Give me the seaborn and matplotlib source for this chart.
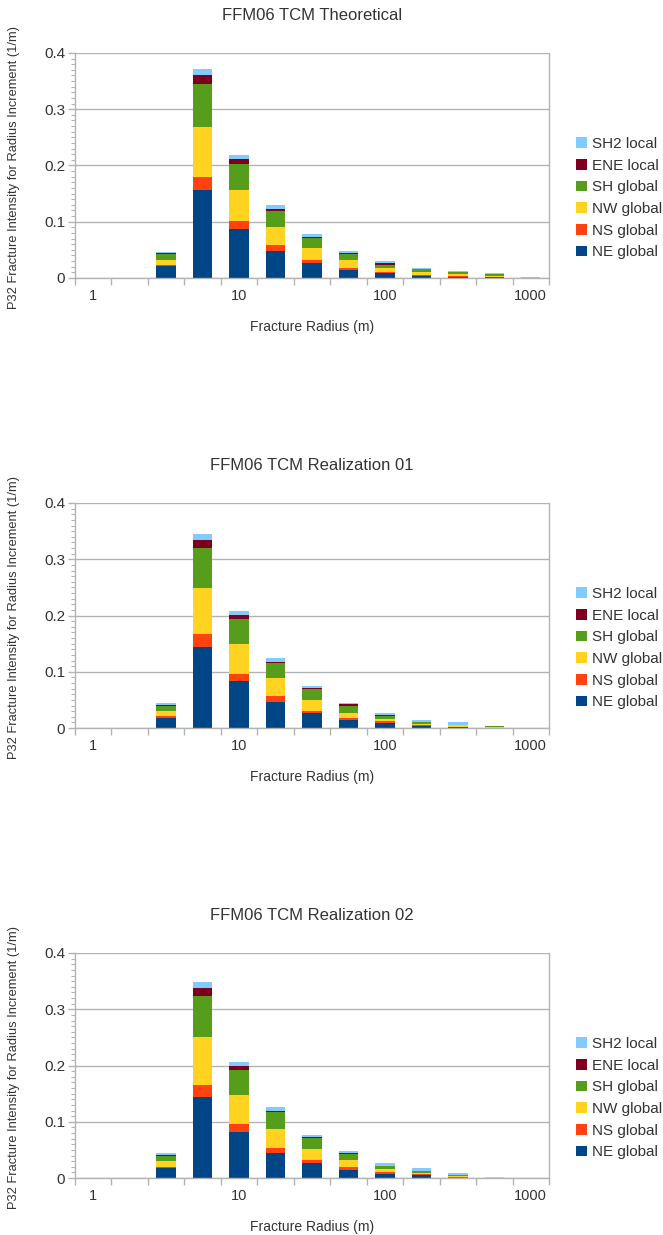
import numpy as np
import pandas as pd
import matplotlib
matplotlib.use("Agg")
import matplotlib.pyplot as plt
from matplotlib.ticker import MultipleLocator, FixedLocator, NullFormatter
import seaborn as sns

sns.set_theme(style="white")
plt.rcParams['font.family'] = ['Liberation Sans', 'DejaVu Sans']

# Categories: fracture radius bins (4 per decade, 1..1000 m)
radius_bins = ["1", "1.78", "3.16", "5.62", "10", "17.8", "31.6", "56.2",
               "100", "178", "316", "562", "1000"]
tick_labels = {0: "1", 4: "10", 8: "100", 12: "1000"}

sets = ["SH2 local", "ENE local", "SH global", "NW global", "NS global", "NE global"]
colors = {"SH2 local": "#83caff", "ENE local": "#7e0021", "SH global": "#579d1c",
          "NW global": "#ffd320", "NS global": "#ff420e", "NE global": "#004586"}

titles = ["FFM06 TCM Theoretical", "FFM06 TCM Realization 01", "FFM06 TCM Realization 02"]

# --- Theoretical ---
th_NE  = [0, 0, 0.021, 0.156, 0.087, 0.0485, 0.026, 0.015, 0.008, 0.004, 0.002, 0.0015, 0]
th_NS  = [0, 0, 0.002, 0.024, 0.014, 0.010, 0.006, 0.003, 0.0025, 0.002, 0.0015, 0.0005, 0]
th_NW  = [0, 0, 0.0095, 0.088, 0.055, 0.0325, 0.0207, 0.0147, 0.007, 0.004, 0.003, 0.002, 0]
th_SH  = [0, 0, 0.010, 0.077, 0.046, 0.0285, 0.018, 0.010, 0.006, 0.0055, 0.004, 0.003, 0]
th_ENE = [0, 0, 0.0024, 0.0165, 0.009, 0.004, 0.0025, 0.0012, 0.0025, 0.001, 0.0005, 0.0005, 0]
th_SH2 = [0, 0, 0.0017, 0.0095, 0.008, 0.006, 0.0056, 0.004, 0.0035, 0.002, 0.0015, 0.0015, 0.0018]

# --- Realization 01 ---
r1_NE  = [0, 0, 0.018, 0.144, 0.083, 0.047, 0.026, 0.0136, 0.0095, 0.0036, 0.0018, 0.0002, 0]
r1_NS  = [0, 0, 0.0025, 0.0226, 0.0136, 0.0095, 0.0036, 0.0036, 0.0023, 0.0017, 0.0006, 0.0002, 0]
r1_NW  = [0, 0, 0.009, 0.083, 0.0534, 0.0326, 0.0208, 0.010, 0.0048, 0.0024, 0.0023, 0.0015, 0]
r1_SH  = [0, 0, 0.0095, 0.071, 0.0444, 0.026, 0.0184, 0.0124, 0.0041, 0.0023, 0.0006, 0.001, 0]
r1_ENE = [0, 0, 0.0013, 0.0143, 0.006, 0.0024, 0.0017, 0.0023, 0.0023, 0.0006, 0.0002, 0, 0]
r1_SH2 = [0, 0, 0.004, 0.010, 0.0083, 0.0065, 0.0048, 0.003, 0.003, 0.003, 0.0045, 0.0002, 0]

# --- Realization 02 ---
r2_NE  = [0, 0, 0.018, 0.1436, 0.081, 0.044, 0.026, 0.014, 0.0077, 0.0047, 0.0005, 0, 0]
r2_NS  = [0, 0, 0.0024, 0.0226, 0.0157, 0.010, 0.0065, 0.006, 0.003, 0.0018, 0.0005, 0, 0]
r2_NW  = [0, 0, 0.0095, 0.0837, 0.051, 0.0326, 0.0196, 0.012, 0.0047, 0.0024, 0.002, 0.002, 0]
r2_SH  = [0, 0, 0.009, 0.0735, 0.045, 0.031, 0.019, 0.0107, 0.0053, 0.0035, 0.003, 0, 0]
r2_ENE = [0, 0, 0.0024, 0.0136, 0.006, 0.0024, 0.0018, 0.0018, 0.0006, 0.0006, 0.0002, 0, 0]
r2_SH2 = [0, 0, 0.0035, 0.0108, 0.0083, 0.0071, 0.0042, 0.0035, 0.0047, 0.004, 0.0033, 0, 0]

panels = [
    {"NE global": th_NE, "NS global": th_NS, "NW global": th_NW, "SH global": th_SH,
     "ENE local": th_ENE, "SH2 local": th_SH2},
    {"NE global": r1_NE, "NS global": r1_NS, "NW global": r1_NW, "SH global": r1_SH,
     "ENE local": r1_ENE, "SH2 local": r1_SH2},
    {"NE global": r2_NE, "NS global": r2_NS, "NW global": r2_NW, "SH global": r2_SH,
     "ENE local": r2_ENE, "SH2 local": r2_SH2},
]

W, H = 663, 1235
fig = plt.figure(figsize=(W / 100, H / 100), dpi=100)

ax_left, ax_right = 75, 549
tops = [53, 503, 953]
ax_h = 225
gray = "#b3b3b3"
txt = "#333333"

for i, (title, pdata) in enumerate(zip(titles, panels)):
    top = tops[i]
    ax = fig.add_axes([ax_left / W, 1 - (top + ax_h) / H,
                       (ax_right - ax_left) / W, ax_h / H])
    rows = []
    for s in sets:
        for j, v in enumerate(pdata[s]):
            rows.append({"bin": j, "set": s, "value": v})
    df = pd.DataFrame(rows)
    sns.histplot(data=df, x="bin", weights="value", hue="set", hue_order=sets,
                 multiple="stack", discrete=True, shrink=0.53, palette=colors,
                 alpha=1, linewidth=0, ax=ax, legend=True)
    ax.set_xlim(-0.5, 12.5)
    ax.set_ylim(0, 0.4)
    ax.set_yticks([0, 0.1, 0.2, 0.3, 0.4])
    ax.set_yticklabels(["0", "0.1", "0.2", "0.3", "0.4"])
    ax.yaxis.set_minor_locator(MultipleLocator(0.01))
    ax.xaxis.set_major_locator(FixedLocator(np.arange(-0.5, 13, 1)))
    ax.xaxis.set_major_formatter(NullFormatter())
    ax.xaxis.set_minor_locator(FixedLocator(list(tick_labels.keys())))
    ax.set_xticklabels(list(tick_labels.values()), minor=True)
    ax.tick_params(axis="x", which="major", length=5, color=gray, width=1, direction="out", bottom=True)
    ax.tick_params(axis="x", which="minor", length=0, labelsize=10.5, labelcolor=txt, pad=8, bottom=True)
    ax.tick_params(axis="y", which="major", length=5, color=gray, width=1, direction="out",
                   labelsize=11, labelcolor=txt, pad=2, left=True)
    ax.tick_params(axis="y", which="minor", length=3, color=gray, width=0.8, direction="out", left=True)
    ax.grid(axis="y", which="major", color=gray, linewidth=1)
    ax.set_axisbelow(True)
    for sp in ["left", "right", "bottom"]:
        ax.spines[sp].set_visible(True)
        ax.spines[sp].set_color(gray)
        ax.spines[sp].set_linewidth(1)
    ax.spines["top"].set_visible(False)
    ax.set_title(title, fontsize=12, color=txt, y=1 + 33 / ax_h, pad=0)
    ax.set_xlabel("Fracture Radius (m)", fontsize=10, color=txt, labelpad=12)
    ax.set_ylabel("P32 Fracture Intensity for Radius Increment (1/m)", fontsize=9.3,
                  color=txt)
    ax.yaxis.set_label_coords(-(75 - 20) / (ax_right - ax_left), 0.49)
    sns.move_legend(ax, loc="center left", bbox_to_anchor=(1.045, 0.355), frameon=False,
                    title=None, fontsize=11, handlelength=0.7, handleheight=0.7,
                    labelspacing=0.5, handletextpad=0.3, borderaxespad=0)
    for t in ax.get_legend().get_texts():
        t.set_color(txt)

fig.savefig("out.png", dpi=100)
